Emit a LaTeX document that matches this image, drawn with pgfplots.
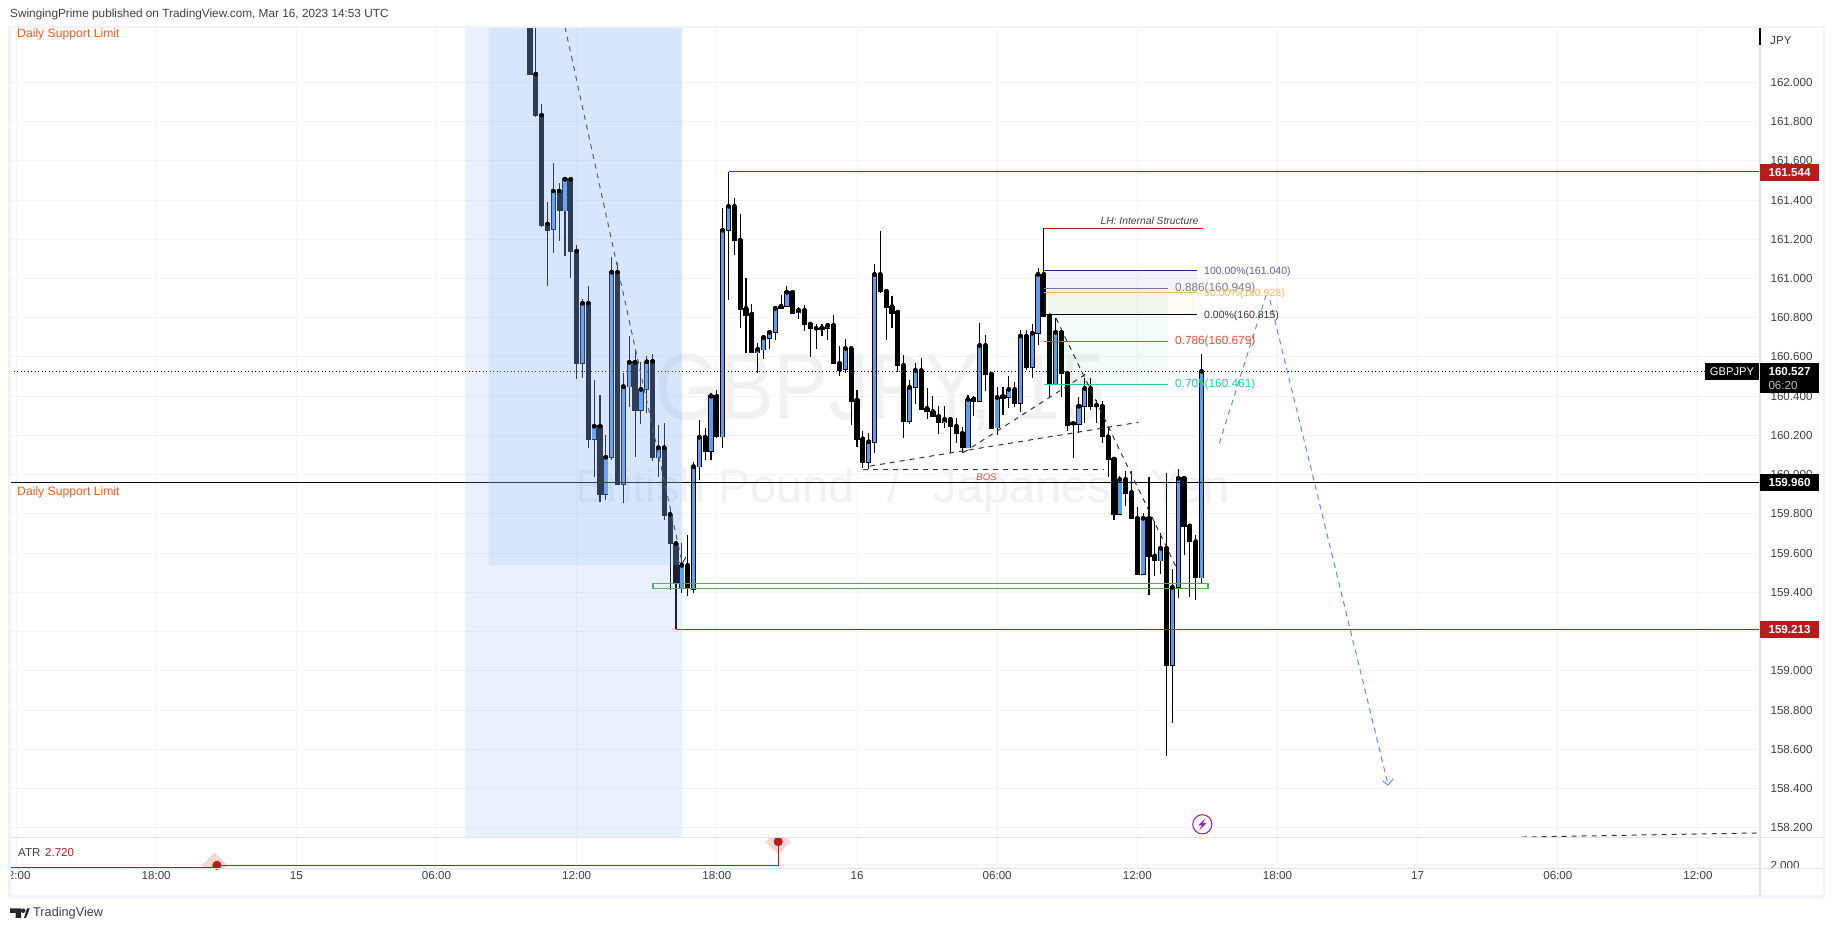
\documentclass[border=0pt]{standalone}
\usepackage{fontspec}
\setmainfont{Liberation Sans}
\usepackage{graphicx}
\usepackage{pgfplots}
\usepackage{pgfplotstable}
\pgfplotsset{compat=1.18}
\definecolor{gridc}{RGB}{241,243,246}
\definecolor{framec}{RGB}{240,243,250}
\definecolor{sepc}{RGB}{224,227,235}
\definecolor{labelc}{RGB}{60,62,72}
\definecolor{upblue}{RGB}{91,156,246}
\definecolor{shadec}{RGB}{139,180,250}
\definecolor{lvred}{RGB}{183,28,28}
\definecolor{markc}{RGB}{76,175,80}
\definecolor{wm}{RGB}{239,241,242}
\definecolor{dblue}{RGB}{91,140,255}
\definecolor{fibnavy}{RGB}{49,27,146}
\definecolor{fibnavyT}{RGB}{100,85,175}
\definecolor{fiborange}{RGB}{249,184,74}
\definecolor{fibgray}{RGB}{120,123,134}
\definecolor{fibred}{RGB}{244,67,54}
\definecolor{fibgreen}{RGB}{31,207,149}
\definecolor{orangeT}{RGB}{240,90,30}
\definecolor{purpleI}{RGB}{156,39,176}
\definecolor{halo}{RGB}{244,214,214}
\pgfplotstableread{
k top bot hi lo
-52 161.446 161.251 161.589 161.131
-50 161.506 161.346 161.506 161.116
-47 160.874 160.568 160.896 160.491
-45 160.247 160.180 160.483 159.990
-43 160.089 159.900 160.202 159.871
-42 161.032 160.089 161.111 160.075
-40 160.449 159.951 160.520 159.857
-39 160.573 160.449 160.707 160.347
-37 160.435 160.331 160.576 160.258
-36 160.576 160.435 160.605 160.314
-34 160.138 160.087 160.253 159.987
-30 159.538 159.421 159.652 159.398
-28 160.041 159.416 160.063 159.395
-27 160.191 160.041 160.279 159.973
-25 160.400 160.122 160.415 160.075
-23 161.246 160.194 161.358 160.134
-22 161.368 161.246 161.544 160.890
-17 160.639 160.622 160.673 160.520
-16 160.700 160.637 160.707 160.590
-15 160.726 160.698 160.738 160.642
-14 160.848 160.726 160.848 160.687
-13 160.858 160.848 160.916 160.848
-12 160.930 160.858 160.962 160.858
-10 160.838 160.826 160.855 160.794
-6 160.749 160.739 160.768 160.707
-5 160.761 160.749 160.772 160.687
-2 160.644 160.537 160.692 160.520
2 160.168 160.066 160.211 160.028
3 161.021 160.168 161.074 160.109
9 160.445 160.275 160.483 160.260
10 160.532 160.445 160.568 160.360
15 160.282 160.265 160.350 160.240
19 160.384 160.138 160.406 160.138
21 160.659 160.374 160.772 160.374
24 160.394 160.240 160.445 160.204
26 160.435 160.397 160.503 160.338
28 160.707 160.364 160.738 160.321
30 160.721 160.547 160.766 160.491
31 161.021 160.721 161.052 160.661
34 160.726 160.462 160.797 160.462
38 160.349 160.257 160.394 160.214
39 160.440 160.349 160.491 160.262
45 159.976 159.798 159.993 159.798
49 159.778 159.495 159.806 159.489
52 159.625 159.562 159.701 159.494
54 159.426 159.030 159.519 158.733
55 159.982 159.426 160.029 159.373
59 160.527 159.475 160.615 159.441
}\upT
\pgfplotstableread{
k top bot hi lo
-56 162.400 162.039 162.500 162.039
-55 162.042 161.830 162.500 161.822
-54 161.833 161.273 161.889 161.264
-53 161.278 161.247 161.391 160.963
-51 161.446 161.346 161.487 161.193
-49 161.506 161.137 161.506 161.004
-48 161.140 160.568 161.171 160.486
-46 160.874 160.180 160.963 160.138
-44 160.247 159.898 160.406 159.862
-41 161.032 159.951 161.079 159.951
-38 160.573 160.331 160.641 160.092
-35 160.578 160.087 160.615 160.071
-33 160.138 159.795 160.262 159.769
-32 159.798 159.650 159.820 159.412
-31 159.650 159.446 159.662 159.213
-29 159.538 159.421 159.693 159.383
-26 160.191 160.122 160.238 160.075
-24 160.400 160.194 160.432 160.189
-21 161.368 161.193 161.412 161.120
-20 161.196 160.845 161.329 160.749
-19 160.848 160.814 161.001 160.622
-18 160.819 160.622 160.870 160.622
-11 160.930 160.824 160.930 160.824
-9 160.838 160.765 160.865 160.732
-8 160.768 160.744 160.768 160.601
-7 160.746 160.739 160.768 160.642
-4 160.763 160.566 160.814 160.566
-3 160.568 160.534 160.656 160.505
-1 160.644 160.377 160.644 160.253
0 160.381 160.183 160.432 160.143
1 160.183 160.066 160.224 160.033
4 161.021 160.933 161.242 160.925
5 160.935 160.856 160.935 160.687
6 160.858 160.824 160.911 160.746
7 160.829 160.556 160.829 160.525
8 160.558 160.275 160.610 160.189
11 160.532 160.336 160.593 160.336
12 160.338 160.321 160.440 160.282
13 160.323 160.296 160.401 160.296
14 160.298 160.265 160.350 160.207
16 160.282 160.245 160.282 160.112
17 160.247 160.209 160.290 160.160
18 160.211 160.138 160.245 160.109
20 160.386 160.374 160.400 160.299
22 160.659 160.510 160.712 160.428
23 160.512 160.238 160.517 160.238
25 160.400 160.392 160.445 160.304
27 160.435 160.364 160.474 160.347
29 160.707 160.547 160.738 160.534
32 161.021 160.810 161.256 160.810
33 160.810 160.462 160.810 160.389
35 160.726 160.517 160.726 160.397
36 160.517 160.253 160.517 160.223
37 160.262 160.257 160.262 160.084
40 160.440 160.350 160.491 160.330
41 160.354 160.347 160.380 160.262
42 160.349 160.194 160.376 160.160
43 160.194 160.078 160.245 159.990
44 160.080 159.798 160.080 159.769
46 159.976 159.908 160.020 159.840
47 159.910 159.776 160.020 159.776
48 159.778 159.495 159.837 159.495
50 159.778 159.582 159.988 159.387
51 159.586 159.562 159.764 159.484
53 159.625 159.030 160.010 158.566
56 159.982 159.735 159.988 159.591
57 159.739 159.659 159.749 159.378
58 159.659 159.475 159.693 159.361
}\downT
\newcommand\PX[2]{(#1pt,{(931-#2)*1pt})}
\newcommand\fz[1]{\fontsize{#1}{#1}\selectfont}
\pgfplotsset{
 wick/.style={forget plot,only marks,mark=none,error bars/.cd,y dir=both,y explicit,error mark=none,
   error bar style={draw=black,line width=1.1pt}},
 body/.style={forget plot,only marks,mark=none,error bars/.cd,y dir=both,y explicit,error mark=none,
   error bar style={draw=black,line width=5.2pt}},
 inner/.style={forget plot,only marks,mark=none,error bars/.cd,y dir=both,y explicit,error mark=none,
   error bar style={draw=upblue,line width=3.4pt}},
 ovl/.style={forget plot,mark=none},
 trend/.style={forget plot,mark=none,draw=black!80,line width=1pt,dash pattern=on 5pt off 5pt},
 blued/.style={forget plot,mark=none,draw=dblue,line width=1pt,dash pattern=on 5.5pt off 4.5pt},
}
\begin{document}
\begin{tikzpicture}
\path[use as bounding box] (0,0) rectangle (1834pt,931pt);
\begin{axis}[
  at={(10pt,94pt)},anchor=south west,scale only axis,
  width=1750pt,height=810pt,
  xmin=-145.03,xmax=154.62,ymin=158.1533,ymax=162.2819,
  axis line style={draw=none},
  major tick length=0pt,
  xtick={-144,-120,-96,-72,-48,-24,0,24,48,72,96,120,144},
  xticklabels={},
  ytick={158.2,158.4,158.6,158.8,159,159.2,159.4,159.6,159.8,160,160.2,160.4,160.6,160.8,161,161.2,161.4,161.6,161.8,162},
  ytick pos=right,yticklabel pos=right,
  yticklabel style={anchor=west,xshift=7pt,font=\fz{11.6},text=labelc,
    /pgf/number format/.cd,fixed,fixed zerofill,precision=3,assume math mode=true,1000 sep={}},
  grid=major,major grid style={draw=gridc,line width=1pt},
]
% watermark
\node[anchor=base west,inner sep=0,text=wm,font=\fz{94}] at (axis cs:-34.6,160.279) {\scalebox{0.875}[1]{GBPJPY, 15}};
\node[anchor=base west,inner sep=0,text=wm,font=\fz{47}] at (axis cs:-48.3,159.856) {British Pound\hspace{20pt} / \hspace{20pt}Japanese Yen};
% candles
\addplot[wick] table[x=k,y=top,y error plus expr=\thisrow{hi}-\thisrow{top},y error minus expr=\thisrow{top}-\thisrow{lo}] {\downT};
\addplot[wick] table[x=k,y=top,y error plus expr=\thisrow{hi}-\thisrow{top},y error minus expr=\thisrow{top}-\thisrow{lo}] {\upT};
\addplot[body] table[x=k,y=top,y error plus expr=0.004,y error minus expr=\thisrow{top}-\thisrow{bot}+0.004] {\downT};
\addplot[body] table[x=k,y=top,y error plus expr=0.004,y error minus expr=\thisrow{top}-\thisrow{bot}+0.004] {\upT};
\addplot[inner] table[x=k,y=top,y error plus expr=0,y error minus expr=\thisrow{top}-\thisrow{bot}] {\upT};
% fib fills
\addplot[ovl,fill=fibnavy,fill opacity=0.05,draw=none] coordinates {(32,161.040)(58.2,161.040)(58.2,160.928)(32,160.928)} -- cycle;
\addplot[ovl,fill=fiborange,fill opacity=0.07,draw=none] coordinates {(32,160.928)(58.2,160.928)(58.2,160.815)(32,160.815)} -- cycle;
\addplot[ovl,fill=fibgreen,fill opacity=0.06,draw=none] coordinates {(32,160.949)(53.2,160.949)(53.2,160.461)(32,160.461)} -- cycle;
% horizontal levels
\addplot[ovl,draw=black,line width=1pt,dash pattern=on 1.2pt off 2.3pt] coordinates {(-145.03,160.527)(154.62,160.527)};
\addplot[ovl,draw=black,line width=1.1pt] coordinates {(-145.03,159.960)(154.62,159.960)};
\addplot[ovl,draw=lvred,line width=1.1pt] coordinates {(-22,161.544)(154.62,161.544)};
\addplot[ovl,draw=lvred,line width=1.1pt] coordinates {(-31,159.213)(154.62,159.213)};
\addplot[ovl,draw=lvred,line width=1pt] coordinates {(32,161.256)(59.2,161.256)};
\addplot[ovl,draw=markc,line width=1.2pt] coordinates {(-34.93,159.446)(60.1,159.446)(60.1,159.419)(-34.93,159.419)} -- cycle;
% fib lines
\addplot[ovl,draw=fibnavy,line width=1pt] coordinates {(32,161.040)(58.2,161.040)};
\addplot[ovl,draw=fiborange,line width=1pt] coordinates {(32,160.928)(58.2,160.928)};
\addplot[ovl,draw=black,line width=1pt] coordinates {(32,160.815)(58.2,160.815)};
\addplot[ovl,draw=fibgray,line width=1pt] coordinates {(32,160.949)(53.2,160.949)};
\addplot[ovl,draw=fibred,line width=1pt] coordinates {(32,160.679)(53.2,160.679)};
\addplot[ovl,draw=fibgreen,line width=1.2pt] coordinates {(32,160.461)(53.2,160.461)};
% trend lines
\addplot[trend] coordinates {(1,160.028)(42.3,160.028)};
\addplot[trend] coordinates {(2.23,160.044)(48.2,160.267)};
\addplot[trend] coordinates {(18.2,160.112)(39.4,160.517)};
\addplot[trend] coordinates {(-50,162.282)(-29.97,159.555)};
\addplot[ovl,draw=black!80,line width=1pt] coordinates {(-31,159.565)(-29.97,159.545)(-29.3,159.58)};
\addplot[trend] coordinates {(34.08,160.797)(54.74,159.523)};
\addplot[trend] coordinates {(113.8,158.153)(154.62,158.174)};
\addplot[blued] coordinates {(62.04,160.160)(70.15,160.925)};
\addplot[blued] coordinates {(70.7,160.890)(90.9,158.424)};
\addplot[ovl,draw=dblue,line width=1pt] coordinates {(90.0,158.440)(90.9,158.418)(91.8,158.450)};
% shaded zones
\addplot[ovl,fill=shadec,fill opacity=0.19,draw=none] coordinates {(-67.04,162.2819)(-29.97,162.2819)(-29.97,158.1533)(-67.04,158.1533)} -- cycle;
\addplot[ovl,fill=shadec,fill opacity=0.19,draw=none] coordinates {(-63.01,162.2819)(-29.97,162.2819)(-29.97,159.540)(-63.01,159.540)} -- cycle;
\end{axis}
\begin{axis}[
  at={(10pt,62.7pt)},anchor=south west,scale only axis,
  width=1750pt,height=31pt,
  xmin=-145.03,xmax=154.62,ymin=1.8726,ymax=2.860,
  axis line style={draw=none},
  major tick length=0pt,
  xtick={-144,-120,-96,-72,-48,-24,0,24,48,72,96,120,144},
  xticklabels={12:00,18:00,15,06:00,12:00,18:00,16,06:00,12:00,18:00,17,06:00,12:00},
  xticklabel style={font=\fz{11.6},text=labelc,anchor=center,yshift=-7pt},
  ytick={2},ytick pos=right,yticklabel pos=right,
  yticklabel style={anchor=west,xshift=7pt,yshift=-1.5pt,font=\fz{11.6},text=labelc,
    /pgf/number format/.cd,fixed,fixed zerofill,precision=3,assume math mode=true},
  grid=major,major grid style={draw=gridc,line width=1pt},
]
\addplot[ovl,fill=halo,draw=none] coordinates {(-112.2,1.968)(-110,2.373)(-107.8,1.968)(-110,1.56)} -- cycle;
\addplot[ovl,fill=halo,draw=none] coordinates {(-15.7,2.72)(-13.5,3.1)(-11.3,2.72)(-13.5,2.315)} -- cycle;
\addplot[ovl,draw=lvred,line width=1.2pt] coordinates {(-145.03,1.892)(-109.6,1.892)};
\addplot[ovl,draw=lvred,line width=1.2pt] coordinates {(-109.6,1.968)(-13.5,1.968)(-13.5,2.72)};
\addplot[forget plot,only marks,mark=*,mark size=4.3pt,mark options={draw=lvred,fill=lvred}] coordinates {(-109.6,1.968)(-13.5,2.72)};
\end{axis}
% masks and frame
\fill[white] \PX{0}{0} rectangle \PX{9.5}{931};
\fill[white] \PX{1761}{868.8} rectangle \PX{1823}{896};
\draw[sepc,line width=1.2pt] \PX{10}{837.3} -- \PX{1823}{837.3};
\draw[sepc,line width=1.2pt] \PX{10}{868.3} -- \PX{1823}{868.3};
\draw[sepc,line width=1.2pt] \PX{1760}{27} -- \PX{1760}{896};
\draw[black,line width=1.2pt] \PX{1760}{27} -- \PX{1760}{45};
\draw[framec,line width=2.2pt] \PX{9.5}{26.7} rectangle \PX{1824}{896.5};
% header & footer
\node[anchor=west,inner sep=0,text=labelc,font=\fz{11.8}] at \PX{10}{14.5} {SwingingPrime published on TradingView.com, Mar 16, 2023 14:53 UTC};
\fill[black!85] \PX{10}{908.5} -- \PX{21}{908.5} -- \PX{21}{918} -- \PX{15.5}{918} -- \PX{15.5}{913} -- \PX{10}{913} -- cycle;
\fill[black!85] \PX{23.2}{910.7} circle (2.3pt);
\fill[black!85] \PX{24}{918} -- \PX{26}{918} -- \PX{29.8}{908.5} -- \PX{27}{908.5} -- cycle;
\node[anchor=west,inner sep=0,text=labelc,font=\fz{12.7}] at \PX{33}{913.5} {TradingView};
% chart texts
\node[anchor=west,inner sep=0,text=orangeT,font=\fz{12.2}] at \PX{17}{34} {Daily Support Limit};
\node[anchor=west,inner sep=0,text=orangeT,font=\fz{12.2}] at \PX{17}{492} {Daily Support Limit};
\node[anchor=west,inner sep=0,text=labelc,font=\fz{11.6}] at \PX{1770}{41} {JPY};
\node[anchor=west,inner sep=0,text=labelc,font=\fz{11.5}] at \PX{18}{852.7} {ATR};
\node[anchor=west,inner sep=0,text=lvred,font=\fz{11.5}] at \PX{45}{852.7} {2.720};
\node[anchor=center,inner sep=0,text=black!75,font=\fz{10.3}\itshape] at \PX{1149.5}{220.7} {LH: Internal Structure};
\node[anchor=center,inner sep=0,text=fibred,font=\fz{9.5}\itshape] at \PX{986.5}{477} {BOS};
\node[anchor=west,inner sep=0,text=fibnavyT,font=\fz{10.5}] at \PX{1204}{271.3} {100.00\%(161.040)};
\node[anchor=west,inner sep=0,text=fibgray,font=\fz{11.8}] at \PX{1175}{288.7} {0.886(160.949)};
\node[anchor=west,inner sep=0,text=fiborange,font=\fz{10.5}] at \PX{1204}{293.3} {50.00\%(160.928)};
\node[anchor=west,inner sep=0,text=black!80,font=\fz{10.5}] at \PX{1204}{315.3} {0.00\%(160.815)};
\node[anchor=west,inner sep=0,text=fibred,font=\fz{11.8}] at \PX{1175}{341.3} {0.786(160.679)};
\node[anchor=west,inner sep=0,text=fibgreen,font=\fz{11.8}] at \PX{1175}{384} {0.705(160.461)};
% lightning
\draw[purpleI,line width=1.1pt] \PX{1202.3}{824.3} circle (9.6pt);
\fill[purpleI] \PX{1205.5}{818} -- \PX{1198}{825.5} -- \PX{1201.8}{825.5} -- \PX{1199}{830.5} -- \PX{1206.5}{823.2} -- \PX{1202.8}{823.2} -- cycle;
% price boxes
\fill[lvred] \PX{1760}{164} rectangle \PX{1818.7}{181};
\node[anchor=center,inner sep=0,text=white,font=\fz{11.6}\bfseries] at \PX{1789.5}{172.7} {161.544};
\fill[black] \PX{1760}{474} rectangle \PX{1818.7}{491};
\node[anchor=center,inner sep=0,text=white,font=\fz{11.6}\bfseries] at \PX{1789.5}{482.7} {159.960};
\fill[lvred] \PX{1760}{621} rectangle \PX{1818.7}{638};
\node[anchor=center,inner sep=0,text=white,font=\fz{11.6}\bfseries] at \PX{1789.5}{629.7} {159.213};
\fill[black] \PX{1760}{363} rectangle \PX{1818.7}{393.5};
\node[anchor=center,inner sep=0,text=white,font=\fz{11.6}\bfseries] at \PX{1789.5}{371.5} {160.527};
\node[anchor=center,inner sep=0,text=black!25,font=\fz{11.6}] at \PX{1783}{385.7} {06:20};
\fill[black] \PX{1705}{363} rectangle \PX{1759}{380};
\node[anchor=center,inner sep=0,text=white,font=\fz{11.2}] at \PX{1732}{371.5} {GBPJPY};
\end{tikzpicture}
\end{document}
